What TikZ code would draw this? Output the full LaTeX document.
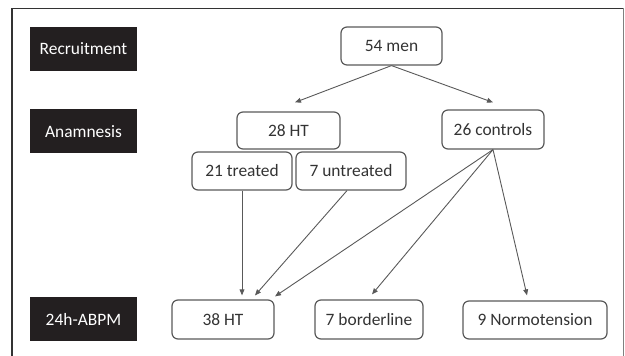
\documentclass[tikz,border=0pt]{standalone}
\usepackage{fontspec}
\setmainfont{Carlito}
\usepackage{xcolor}
\usetikzlibrary{arrows.meta,calc}
\definecolor{flowblack}{HTML}{231F20}
\definecolor{flowgray}{HTML}{595959}
\definecolor{flowtext}{HTML}{333333}
\begin{document}
\begin{tikzpicture}[
    x=0.5pt,y=-0.5pt,
    font=\fontsize{8.7}{10}\selectfont,
    stage/.style={fill=flowblack,text=white,minimum width=53.5pt,minimum height=22pt,inner sep=0pt},
    grp/.style={draw=flowgray,line width=0.6pt,rounded corners=3pt,text=flowtext,minimum height=19pt,inner sep=0pt},
    arr/.style={-{Triangle[length=3pt,width=2.4pt]},line width=0.45pt,draw=flowgray}
  ]
    \useasboundingbox (0,0) rectangle (625,356);
    % frame
    \draw[line width=0.75pt,draw=flowtext] (12,356) -- (12,8.5) -- (623.5,8.5);
    \draw[line width=0.6pt,draw=gray] (623.5,8.5) -- (623.5,356);
    % stages
    \node[stage] (rec) at (83.5,49) {Recruitment};
    \node[stage] (ana) at (83.5,131.5) {Anamnesis};
    \node[stage] (abpm) at (83.5,319.5) {24h-ABPM};
    % groups
    \node[grp,minimum width=50.5pt] (men) at (391.5,46) {54 men};
    \node[grp,minimum width=51.5pt,minimum height=18.5pt] (ht28) at (288.5,130.5) {28 HT};
    \node[grp,minimum width=51pt,minimum height=19.5pt] (ctrl) at (493,129.5) {26 controls};
    \node[grp,minimum width=50pt] (treated) at (242,171) {21 treated};
    \node[grp,minimum width=55pt] (untreated) at (351,171) {7 untreated};
    \node[grp,minimum width=51pt,minimum height=19.5pt] (ht38) at (223,319.5) {38 HT};
    \node[grp,minimum width=54pt,minimum height=19.5pt] (border) at (369,319.5) {7 borderline};
    \node[grp,minimum width=72pt] (normo) at (535,320) {9 Normotension};
    % arrows
    \draw[arr] (men.south) -- ($(ht28.north)+(6.5,-9)$);
    \draw[arr] (men.south) -- ($(ctrl.north)+(0,-7)$);
    \draw[arr] (treated.south) -- ($(ht38.north)+(19,-4)$);
    \draw[arr] ($(untreated.south)+(-4,0)$) -- ($(ht38.north)+(32,-4)$);
    \draw[arr] (ctrl.south) -- ($(ht38.north)+(52,-3)$);
    \draw[arr] (ctrl.south) -- ($(border.north)+(3,-5)$);
    \draw[arr] (ctrl.south) -- ($(normo.north)+(-8,-5)$);
\end{tikzpicture}
\end{document}
